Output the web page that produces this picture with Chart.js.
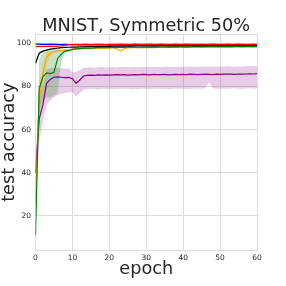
<!DOCTYPE html>
<html>
<head>
<meta charset="utf-8">
<script src="https://cdn.jsdelivr.net/npm/chart.js@4.4.1/dist/chart.umd.min.js"></script>
<style>
    html, body { margin: 0; padding: 0; background: #ffffff; }
    #grafico { display: block; }
</style>
</head>
<body>
<canvas id="grafico" width="286" height="286"></canvas>
<script>
// =====================================================
// DADOS
// =====================================================

const epocas = [
    0, 1, 2, 3, 4, 5, 6, 7, 8, 9,
    10, 11, 12, 13, 14, 15, 16, 17, 18, 19,
    20, 21, 22, 23, 24, 25, 26, 27, 28, 29,
    30, 31, 32, 33, 34, 35, 36, 37, 38, 39,
    40, 41, 42, 43, 44, 45, 46, 47, 48, 49,
    50, 51, 52, 53, 54, 55, 56, 57, 58, 59, 60
];

const ticksX = [0, 10, 20, 30, 40, 50, 60];
const ticksY = [20, 40, 60, 80, 100];

const azul = [
    99.6, 99.6, 99.5, 99.5, 99.6, 99.5, 99.5, 99.4, 99.5, 99.4,
    99.4, 99.4, 99.3, 99.4, 99.3, 99.3, 99.4, 99.3, 99.3, 99.3,
    99.2, 99.3, 99.3, 99.2, 99.3, 99.2, 99.2, 99.3, 99.2, 99.2,
    99.2, 99.3, 99.2, 99.2, 99.2, 99.1, 99.2, 99.2, 99.2, 99.1,
    99.2, 99.2, 99.1, 99.2, 99.2, 99.1, 99.2, 99.1, 99.2, 99.2,
    99.1, 99.2, 99.1, 99.1, 99.2, 99.1, 99.2, 99.1, 99.1, 99.2, 99.1
];

const vermelho = [
    98.5, 98.6, 98.6, 98.6, 98.7, 98.6, 98.7, 98.8, 99.2, 99.4,
    99.4, 99.5, 99.4, 99.5, 99.5, 99.4, 99.5, 99.5, 99.5, 99.4,
    99.5, 99.5, 99.5, 99.6, 99.5, 99.5, 99.5, 99.6, 99.5, 99.5,
    99.5, 99.6, 99.5, 99.5, 99.6, 99.5, 99.5, 99.5, 99.6, 99.5,
    99.5, 99.6, 99.5, 99.5, 99.5, 99.6, 99.5, 99.5, 99.6, 99.5,
    99.5, 99.5, 99.6, 99.5, 99.5, 99.6, 99.5, 99.5, 99.5, 99.6, 99.5
];

const preto = [
    90.8, 95.4, 96.4, 96.9, 97.3, 97.6, 97.8, 98.0, 98.1, 98.2,
    98.3, 98.3, 98.4, 98.4, 98.5, 98.5, 98.5, 98.6, 98.6, 98.6,
    98.6, 98.7, 98.7, 98.7, 98.7, 98.8, 98.7, 98.8, 98.8, 98.8,
    98.8, 98.8, 98.9, 98.8, 98.9, 98.9, 98.8, 98.9, 98.9, 98.9,
    98.9, 98.9, 99.0, 98.9, 98.9, 99.0, 98.9, 99.0, 99.0, 98.9,
    99.0, 99.0, 98.9, 99.0, 99.0, 99.0, 99.0, 98.9, 99.0, 99.0, 99.0
];

const laranja = [
    26.0, 73.7, 86.0, 93.5, 95.4, 96.1, 96.4, 96.7, 96.9, 97.1,
    97.3, 97.4, 97.5, 97.6, 97.7, 97.6, 97.8, 97.8, 97.9, 97.8,
    97.9, 97.9, 97.6, 96.4, 97.5, 97.9, 98.0, 98.0, 97.9, 98.0,
    98.0, 98.1, 98.0, 98.1, 98.1, 98.0, 98.1, 98.2, 98.1, 98.2,
    98.2, 98.1, 98.2, 98.2, 98.3, 98.2, 98.2, 98.3, 98.2, 98.3,
    98.3, 98.2, 98.3, 98.3, 98.3, 98.4, 98.3, 98.3, 98.4, 98.3, 98.4
];

const verde = [
    11.0, 79.0, 84.5, 86.3, 86.0, 86.6, 93.0, 95.0, 96.4, 96.6,
    97.2, 97.4, 97.6, 97.7, 97.8, 97.8, 97.9, 98.0, 98.0, 98.1,
    98.0, 98.1, 98.1, 98.2, 98.1, 98.2, 98.2, 98.3, 98.2, 98.3,
    98.3, 98.3, 98.4, 98.3, 98.4, 98.4, 98.3, 98.4, 98.5, 98.4,
    98.4, 98.5, 98.4, 98.5, 98.5, 98.4, 98.5, 98.5, 98.6, 98.5,
    98.5, 98.6, 98.5, 98.5, 98.6, 98.6, 98.5, 98.6, 98.6, 98.5, 98.6
];

const roxo = [
    40.0, 65.0, 71.5, 81.5, 83.3, 84.3, 84.5, 84.3, 84.1, 84.2,
    83.6, 81.4, 83.0, 84.8, 85.2, 85.3, 85.2, 85.4, 85.3, 85.4,
    85.3, 85.4, 85.5, 85.4, 85.5, 85.3, 85.4, 85.5, 85.4, 85.6,
    85.5, 85.4, 85.6, 85.5, 85.5, 85.6, 85.4, 85.5, 85.6, 85.5,
    85.6, 85.5, 85.7, 85.6, 85.5, 85.6, 85.7, 85.6, 85.5, 85.7,
    85.6, 85.7, 85.8, 85.7, 85.6, 85.8, 85.7, 85.8, 85.9, 85.8, 86.0
];

// faixas de desvio (inferior / superior)
const roxoInf = [
    34.0, 55.0, 64.0, 71.5, 73.5, 75.0, 76.0, 76.5, 77.0, 77.3,
    77.5, 75.5, 77.0, 78.5, 78.8, 79.0, 78.8, 78.6, 79.0, 78.8,
    79.0, 78.7, 79.0, 78.8, 79.1, 78.9, 78.7, 79.0, 78.8, 79.1,
    79.0, 78.7, 78.9, 79.1, 78.8, 79.0, 78.7, 79.0, 79.1, 78.9,
    79.1, 78.8, 79.0, 79.1, 78.9, 79.0, 79.3, 82.0, 79.2, 78.9,
    79.1, 79.0, 78.9, 79.1, 79.2, 79.0, 78.9, 79.1, 79.2, 79.0, 79.2
];
const roxoSup = [
    46.0, 75.0, 80.0, 88.0, 88.5, 88.6, 88.7, 88.5, 88.4, 88.5,
    86.5, 86.8, 87.5, 88.6, 88.8, 88.9, 88.7, 88.9, 89.0, 88.8,
    88.9, 89.0, 88.8, 89.0, 89.1, 88.9, 89.0, 89.1, 88.9, 89.1,
    89.0, 89.2, 89.0, 89.1, 89.0, 89.2, 89.1, 89.0, 89.2, 89.1,
    89.2, 89.1, 89.3, 89.2, 89.1, 89.3, 89.2, 89.3, 89.1, 89.3,
    89.2, 89.3, 89.4, 89.3, 89.2, 89.4, 89.3, 89.4, 89.5, 89.4, 89.5
];

const verdeInf = [8.6, 68.0, 74.0, 75.0, 75.0, 76.0, 77.0, 92.0, 95.6, 96.1, 96.8, 97.0, 97.3, 97.4, 97.5];
const verdeSup = [14.0, 93.0, 96.0, 97.0, 97.0, 97.5, 97.5, 97.3, 97.2, 97.1, 97.6, 97.8, 97.9, 98.0, 98.1];

const laranjaInf = [20.0, 65.0, 80.0, 90.0, 94.2, 95.5, 96.0, 96.4, 96.6, 96.9, 97.1, 97.2, 97.3, 97.4, 97.5];
const laranjaSup = [32.0, 82.0, 91.0, 96.0, 96.6, 96.7, 96.8, 97.0, 97.2, 97.3, 97.5, 97.6, 97.7, 97.8, 97.9];

const pretoInf = [89.5, 94.8, 96.0, 96.6, 97.1, 97.4];
const pretoSup = [92.0, 96.0, 96.8, 97.2, 97.5, 97.8];

// =====================================================
// ESTILO
// =====================================================

const corTexto = '#262626';
const corGrade = '#dddddd';
const fonte = 'DejaVu Sans';

// =====================================================
// MONTAGEM DOS DATASETS
// =====================================================

function pontos(valores) {
    return valores.map((v, i) => ({ x: epocas[i], y: v }));
}

function linha(valores, cor) {
    return {
        data: pontos(valores),
        borderColor: cor,
        borderWidth: 1.2,
        pointRadius: 0,
        tension: 0,
        fill: false
    };
}

function faixa(inferior, superior, corFundo) {
    return [
        { data: pontos(inferior), borderColor: 'transparent', borderWidth: 0, pointRadius: 0, fill: false },
        { data: pontos(superior), borderColor: 'transparent', borderWidth: 0, pointRadius: 0, fill: '-1', backgroundColor: corFundo }
    ];
}

const datasets = [
    linha(vermelho, '#ff0000'),
    linha(azul, '#0000ff'),
    linha(preto, '#000000'),
    linha(verde, '#008000'),
    linha(laranja, '#ffa500'),
    linha(roxo, '#800080'),
    ...faixa(pretoInf, pretoSup, 'rgba(0, 0, 0, 0.15)'),
    ...faixa(laranjaInf, laranjaSup, 'rgba(255, 165, 0, 0.25)'),
    ...faixa(verdeInf, verdeSup, 'rgba(0, 128, 0, 0.22)'),
    ...faixa(roxoInf, roxoSup, 'rgba(128, 0, 128, 0.2)')
];

// =====================================================
// PLUGINS (moldura e título)
// =====================================================

const molduraPlugin = {
    id: 'moldura',
    beforeDatasetsDraw(chart) {
        const { ctx, chartArea: a } = chart;
        ctx.save();
        ctx.strokeStyle = corGrade;
        ctx.lineWidth = 1;
        const x0 = Math.floor(a.left) + 0.5;
        const y0 = Math.floor(a.top) + 0.5;
        const x1 = Math.floor(a.right) + 0.5;
        const y1 = Math.floor(a.bottom) + 0.5;
        ctx.strokeRect(x0, y0, x1 - x0, y1 - y0);
        ctx.restore();
    }
};

const tituloPlugin = {
    id: 'titulo',
    afterDraw(chart) {
        const { ctx, chartArea: a } = chart;
        ctx.save();
        ctx.fillStyle = corTexto;
        ctx.font = `17.7px '${fonte}'`;
        ctx.textAlign = 'center';
        ctx.textBaseline = 'alphabetic';
        ctx.fillText('MNIST, Symmetric 50%', (a.left + a.right) / 2, 31);
        ctx.restore();
    }
};

// =====================================================
// GRÁFICO
// =====================================================

new Chart(document.getElementById('grafico'), {
    type: 'line',
    data: { datasets },
    options: {
        responsive: false,
        animation: false,
        devicePixelRatio: 1,
        layout: { padding: { top: 34.3, right: 29, left: 0, bottom: 0 } },
        plugins: {
            legend: { display: false },
            tooltip: { enabled: false },
            filler: { drawTime: 'beforeDatasetsDraw' }
        },
        scales: {
            x: {
                type: 'linear',
                min: 0,
                max: 60,
                afterBuildTicks: (scale) => { scale.ticks = ticksX.map(v => ({ value: v })); },
                afterFit: (scale) => { scale.height = 36; },
                grid: { color: corGrade, lineWidth: 1, drawTicks: false },
                border: { display: false },
                ticks: { color: corTexto, font: { family: fonte, size: 7.5 }, padding: 3.5, maxRotation: 0 },
                title: {
                    display: true,
                    text: 'epoch',
                    color: corTexto,
                    font: { family: fonte, size: 17.7, lineHeight: 1 },
                    padding: { top: 0, bottom: 7.75 }
                }
            },
            y: {
                type: 'linear',
                min: 4.2,
                max: 104.2,
                afterBuildTicks: (scale) => { scale.ticks = ticksY.map(v => ({ value: v })); },
                afterFit: (scale) => { scale.width = 35.5; },
                grid: { color: corGrade, lineWidth: 1, drawTicks: false },
                border: { display: false },
                ticks: { color: corTexto, font: { family: fonte, size: 7.5 }, padding: 4.5 },
                title: {
                    display: true,
                    text: 'test accuracy',
                    color: corTexto,
                    font: { family: fonte, size: 17.7, lineHeight: 1 },
                    padding: { top: 0.6, bottom: 0 }
                }
            }
        }
    },
    plugins: [molduraPlugin, tituloPlugin]
});
</script>
</body>
</html>
